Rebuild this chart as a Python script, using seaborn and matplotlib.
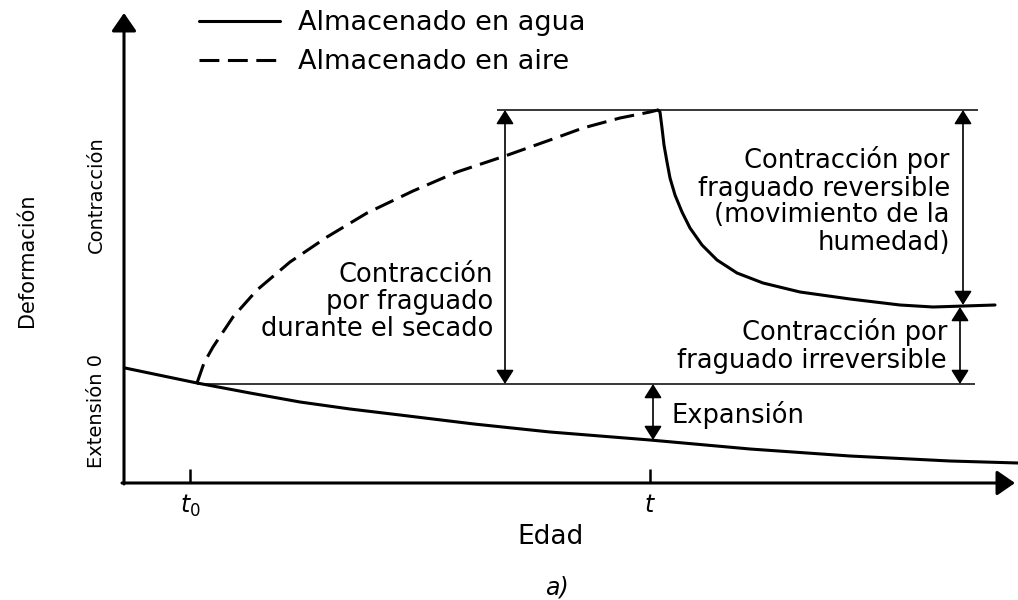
import numpy as np
import pandas as pd
import matplotlib
matplotlib.use("Agg")
import matplotlib.pyplot as plt
import seaborn as sns

edad_agua = [1, 73, 126, 176, 226, 276, 350, 426, 526, 626, 726, 826, 894]
def_agua = [115, 100, 90, 81, 74, 68, 59, 51, 43, 34, 27, 22, 20]

edad_aire = [73, 80, 89, 109, 133, 166, 203, 243, 289, 333, 381, 426, 459, 496, 526, 534]
def_aire = [100, 120, 136, 166, 193, 221, 246, 270, 292, 311, 327, 343, 355, 365, 371, 373]

edad_rehum = [534, 536, 538, 540, 543, 546, 551, 558, 566, 578, 593, 613, 639, 676,
              726, 776, 809, 871]
def_rehum = [373, 371, 355, 338, 321, 305, 288, 271, 255, 238, 223, 210, 200, 191,
             184, 178, 176, 178]

niveles = [373, 99]          # contraccion maxima, nivel en t0
niveles_ini = [373, 73]
niveles_fin = [854, 851]

edad_ticks = [66, 526]
edad_labels = [r'$t_0$', r'$t$']
zona_ticks = [72, 288]
zona_labels = ['Extensión 0', 'Contracción']

serie_agua = 'Almacenado en agua'
serie_aire = 'Almacenado en aire'

df = pd.concat([
    pd.DataFrame({'edad': edad_agua, 'deformacion': def_agua,
                  'almacenamiento': serie_agua, 'tramo': 0}),
    pd.DataFrame({'edad': edad_aire, 'deformacion': def_aire,
                  'almacenamiento': serie_aire, 'tramo': 1}),
    pd.DataFrame({'edad': edad_rehum, 'deformacion': def_rehum,
                  'almacenamiento': serie_agua, 'tramo': 2}),
], ignore_index=True)

sns.set_style("white")
plt.rcParams['font.family'] = ['DejaVu Sans']
plt.rcParams['mathtext.fontset'] = 'dejavusans'
plt.rcParams['text.color'] = 'black'
plt.rcParams['axes.labelcolor'] = 'black'
plt.rcParams['xtick.color'] = 'black'
plt.rcParams['ytick.color'] = 'black'
plt.rcParams['lines.solid_joinstyle'] = 'round'
plt.rcParams['lines.dash_joinstyle'] = 'round'

fig = plt.figure(figsize=(10.18, 6), dpi=100)
ax = fig.add_axes([124 / 1018, 117 / 600, 894 / 1018, 483 / 600])

sns.lineplot(data=df, x='edad', y='deformacion', style='almacenamiento',
             style_order=[serie_agua, serie_aire], units='tramo', estimator=None,
             dashes={serie_agua: '', serie_aire: (6.5, 2.8)}, color='black',
             lw=2.2, sort=False, ax=ax)

ax.hlines(niveles, niveles_ini, niveles_fin, color='black', lw=1.1)

ax.set_xlim(0, 894)
ax.set_ylim(0, 483)
for s in ax.spines.values():
    s.set_visible(False)

# ejes con flecha
eje = dict(arrowstyle='-|>,head_length=0.55,head_width=0.38', mutation_scale=20,
           lw=2.2, color='black', shrinkA=0, shrinkB=0)
ax.annotate('', xy=(0, 470), xytext=(0, -1), arrowprops=eje, annotation_clip=False)
ax.annotate('', xy=(891, 0), xytext=(-2, 0), arrowprops=eje, annotation_clip=False)

ax.set_xticks(edad_ticks, edad_labels)
ax.tick_params(axis='x', direction='in', length=10, width=1.8, pad=7,
               labelsize=17, color='black', bottom=True)
ax.set_yticks(zona_ticks, zona_labels)
ax.tick_params(axis='y', length=0, pad=13, labelsize=14, labelrotation=90)
for lbl in ax.get_yticklabels():
    lbl.set_va('center')

ax.set_xlabel('Edad', fontsize=19)
ax.xaxis.label.set_va('center')
ax.xaxis.set_label_coords(426 / 894, -54 / 483)
ax.set_ylabel('Deformación', fontsize=15)
ax.yaxis.label.set_va('center')
ax.yaxis.set_label_coords(-97 / 894, 223 / 483)

# cotas
cota = dict(arrowstyle='<|-|>,head_length=0.57,head_width=0.36', mutation_scale=15,
            lw=1.2, color='black', shrinkA=0, shrinkB=0)
ax.annotate('', xy=(381, 373), xytext=(381, 99), arrowprops=cota)
ax.annotate('', xy=(839, 373), xytext=(839, 178), arrowprops=cota)
ax.annotate('', xy=(836, 176), xytext=(836, 99), arrowprops=cota)
ax.annotate('', xy=(529, 99), xytext=(529, 43), arrowprops=cota)

txt = dict(fontsize=18.5, color='black', linespacing=1.05)
ax.text(369, 181, 'Contracción\npor fraguado\ndurante el secado',
        ha='right', va='center', multialignment='right', **txt)
ax.text(826, 282, 'Contracción por\nfraguado reversible\n(movimiento de la\nhumedad)',
        ha='right', va='center', multialignment='right', **txt)
ax.text(823, 137, 'Contracción por\nfraguado irreversible',
        ha='right', va='center', multialignment='right', **txt)
ax.text(548, 68, 'Expansión', ha='left', va='center', **txt)

handles, labels = ax.get_legend_handles_labels()
leg = ax.legend(handles, labels, loc='upper left', frameon=False, fontsize=19.5,
                bbox_to_anchor=(199 / 1018, 1 - 10 / 600), bbox_transform=fig.transFigure,
                handlelength=3.0, handletextpad=0.65, labelspacing=0.48,
                borderpad=0, borderaxespad=0)
for h in leg.legend_handles:
    h.set_linewidth(2.2)
    h.set_color('black')
for t in leg.get_texts():
    t.set_color('black')

fig.text(557 / 1018, 1 - 588 / 600, 'a)', style='italic', fontsize=17,
         ha='center', va='center')

fig.savefig('out.png', dpi=100, facecolor='white')
